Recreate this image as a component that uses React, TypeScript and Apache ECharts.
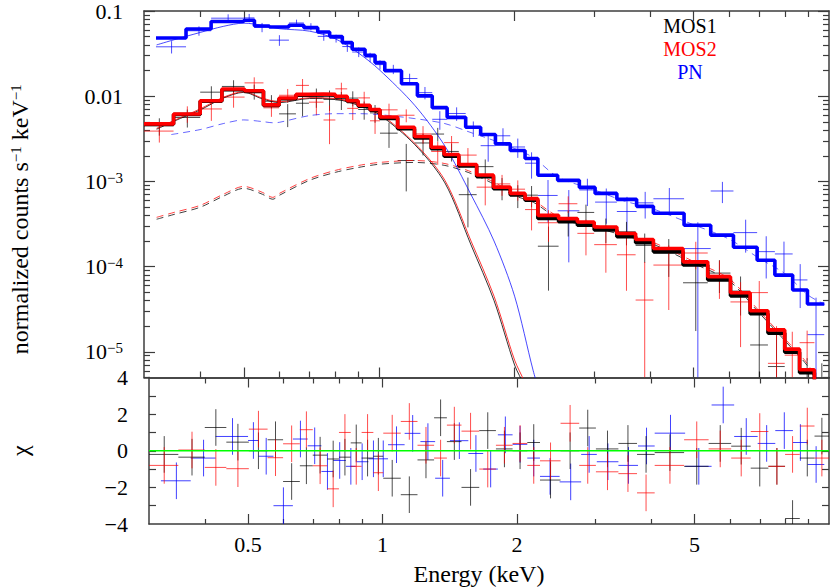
import React, { useEffect, useRef } from 'react';
import * as echarts from 'echarts';

// ---------- data (energies in keV) ----------
// EPIC-pn bins: edges, folded model (counts s^-1 keV^-1), residual chi, relative error
const pnEdges = [0.319, 0.372, 0.423, 0.5, 0.528, 0.57, 0.63, 0.68, 0.73, 0.776, 0.828, 0.871, 0.93, 0.979, 1.029, 1.121, 1.216, 1.312, 1.416, 1.557, 1.681, 1.813, 1.956, 2.11, 2.253, 2.493, 2.786, 3.02, 3.376, 3.735, 4.07, 4.762, 5.458, 6.132, 6.922, 7.58, 8.303, 8.955, 9.76];
const pnModel = [0.0483, 0.0616, 0.0753, 0.0778, 0.0668, 0.065, 0.068, 0.0638, 0.0568, 0.0503, 0.0426, 0.0356, 0.0303, 0.0248, 0.0199, 0.014, 0.0101, 0.00734, 0.00565, 0.00432, 0.00355, 0.00276, 0.00231, 0.00186, 0.00118, 0.00103, 0.000851, 0.000724, 0.000616, 0.00051, 0.000423, 0.000306, 0.000234, 0.000169, 0.000119, 0.0000796, 0.0000531, 0.0000364];
const pnChi = [-1.64, -0.4, 0.78, 0.56, -0.3, -3.0, 0.64, 0.27, -1.13, -0.53, -0.85, -0.6, -0.44, -0.44, 0.33, 0.95, 0.5, -1.5, 0.55, -0.15, -1.0, 0.87, 0.35, -0.4, -1.4, -1.7, -0.2, -0.6, -0.8, 0.26, 0.96, -0.85, 2.5, 0.78, 0.4, 1.1, 0.45, -0.75];
const pnRelErr = [0.13, 0.12, 0.12, 0.12, 0.12, 0.1, 0.1, 0.1, 0.1, 0.1, 0.12, 0.12, 0.12, 0.12, 0.13, 0.16, 0.18, 0.18, 0.2, 0.2, 0.26, 0.28, 0.28, 0.3, 0.3, 0.33, 0.33, 0.35, 0.35, 0.38, 0.5, 0.55, 0.92, 0.62, 0.65, 0.7, 0.7, 0.75];

// EPIC-MOS bins (shared by MOS1 and MOS2)
const mosEdges = [0.3, 0.349, 0.4, 0.447, 0.502, 0.553, 0.599, 0.653, 0.698, 0.752, 0.799, 0.849, 0.898, 0.954, 1.004, 1.099, 1.198, 1.305, 1.394, 1.503, 1.647, 1.795, 1.956, 2.11, 2.253, 2.505, 2.758, 3.006, 3.376, 3.716, 4.07, 4.737, 5.375, 6.039, 6.679, 7.316, 7.972, 8.602, 9.28, 10.0];
const mos1Model = [0.00468, 0.0061, 0.00872, 0.0119, 0.0114, 0.0078, 0.00935, 0.0103, 0.0104, 0.0103, 0.0098, 0.00868, 0.00766, 0.00683, 0.0055, 0.00415, 0.00323, 0.00242, 0.00198, 0.00152, 0.00114, 0.000823, 0.000695, 0.000603, 0.000368, 0.000337, 0.000307, 0.000269, 0.000225, 0.000191, 0.00015, 0.0001047, 0.00007, 0.0000454, 0.000028, 0.0000166, 0.0000099, 0.0000057, 0.0000028];
const mos2Model = [0.00473, 0.00619, 0.00886, 0.01214, 0.0116, 0.00791, 0.00953, 0.0105, 0.0106, 0.0105, 0.01, 0.00886, 0.00783, 0.00699, 0.00571, 0.00432, 0.00336, 0.00252, 0.00207, 0.00158, 0.00119, 0.000858, 0.000724, 0.000628, 0.0004, 0.000366, 0.000334, 0.000292, 0.000245, 0.000208, 0.000163, 0.0001138, 0.000076, 0.0000494, 0.0000304, 0.0000181, 0.00001076, 0.00000616, 0.000003];
const mos1Chi = [-0.2, -0.35, 1.27, 0.47, 0.0, 0.6, -1.68, -0.82, -0.24, -0.45, -0.35, 0.43, -0.4, -0.3, -1.5, -2.4, -0.5, 1.8, 0.5, -2.0, 1.1, 0.1, 0.0, 0.45, -1.6, 0.0, 1.24, 0.1, 0.4, -0.2, -0.1, -0.85, 0.4, 0.25, -0.95, -0.85, -3.7, -0.4, 0.8];
const mos2Chi = [-0.8, 0.04, -0.91, -0.98, 1.18, -0.38, 0.38, 1.15, -0.82, -2.08, 1.0, -0.85, 1.0, -1.2, 0.96, 1.6, 0.3, -0.4, 1.4, 1.07, -1.0, 0.3, 0.4, -0.8, -0.55, 1.5, -0.8, -1.15, -1.25, -2.3, -0.8, 0.6, 0.1, -0.4, 1.05, -0.85, -0.2, 1.35, -0.4];
const mosRelErr = [0.22, 0.22, 0.22, 0.2, 0.2, 0.2, 0.2, 0.24, 0.24, 0.24, 0.22, 0.22, 0.22, 0.22, 0.22, 0.24, 0.25, 0.27, 0.27, 0.27, 0.28, 0.3, 0.3, 0.32, 0.33, 0.33, 0.33, 0.33, 0.35, 0.35, 0.45, 0.45, 0.5, 0.55, 0.6, 0.7, 0.75, 0.8, 0.9];

// model components
const pnThermE = [0.32, 0.35, 0.4, 0.45, 0.5, 0.55, 0.6, 0.7, 0.8, 0.9, 1.0, 1.2, 1.4, 1.6, 1.8, 2.0, 2.2, 2.3];
const pnThermV = [0.04, 0.046, 0.056, 0.066, 0.072, 0.068, 0.062, 0.058, 0.047, 0.032, 0.0205, 0.0078, 0.0026, 0.0007, 0.0002, 0.000045, 0.000006, 0.0000027];
const mosThermE = [0.32, 0.35, 0.4, 0.45, 0.5, 0.55, 0.6, 0.7, 0.8, 0.9, 1.0, 1.2, 1.4, 1.6, 1.8, 2.0, 2.1, 2.2];
const mos1ThermV = [0.0041, 0.0051, 0.0069, 0.0095, 0.0111, 0.0093, 0.0084, 0.0094, 0.0092, 0.0078, 0.0061, 0.0027, 0.00096, 0.00018, 0.00004, 0.000007, 0.000004, 0.0000018];
const mos2ThermV = [0.0042, 0.0052, 0.0071, 0.0097, 0.0113, 0.0095, 0.0086, 0.0096, 0.0094, 0.008, 0.0063, 0.0028, 0.00103, 0.0002, 0.000045, 0.000008, 0.0000045, 0.000002];
const pnPowE = [0.345, 0.4, 0.45, 0.5, 0.55, 0.58, 0.6, 0.7, 0.8, 0.9, 1.0, 1.2, 1.4, 1.6, 1.8, 2.0, 2.2, 2.5, 3.0, 3.5, 4.0, 5.0, 6.0, 7.0, 8.0, 9.0, 9.8];
const pnPowV = [0.00355, 0.00406, 0.00477, 0.00527, 0.00504, 0.00488, 0.00494, 0.00592, 0.00624, 0.00624, 0.00608, 0.00546, 0.00477, 0.00374, 0.00302, 0.00243, 0.00191, 0.00112, 0.0008, 0.00059, 0.00049, 0.00031, 0.00021, 0.000125, 0.000082, 0.000046, 0.000036];
const mosPowE = [0.32, 0.35, 0.4, 0.45, 0.5, 0.55, 0.58, 0.6, 0.7, 0.8, 0.9, 1.0, 1.2, 1.4, 1.6, 1.8, 2.0, 2.2, 2.5, 3.0, 3.5, 4.0, 5.0, 6.0, 7.0, 8.0, 9.0, 9.6];
const mos1PowV = [0.00036, 0.00041, 0.000498, 0.00067, 0.00083, 0.000707, 0.000618, 0.000688, 0.00103, 0.00128, 0.00146, 0.00159, 0.00167, 0.00154, 0.00124, 0.00093, 0.00068, 0.00057, 0.00037, 0.00029, 0.000232, 0.00019, 0.000109, 0.000068, 0.0000285, 0.0000133, 0.0000066, 0.0000033];
const mos2PowV = [0.000379, 0.000433, 0.000524, 0.000705, 0.000874, 0.000744, 0.00065, 0.000724, 0.00108, 0.00135, 0.00154, 0.00167, 0.00176, 0.00162, 0.0013, 0.00098, 0.00072, 0.0006, 0.00039, 0.00031, 0.000245, 0.0002, 0.000115, 0.000072, 0.00003, 0.000014, 0.000007, 0.0000035];

// axes
const xMajorTicks = [0.5, 1, 2, 5];
const xMinorTicks = [0.4, 0.6, 0.7, 0.8, 0.9, 3, 4, 6, 7, 8, 9];
const yMajorTicks = [1e-5, 1e-4, 1e-3, 0.01, 0.1];
const yMinorMultipliers = [2, 3, 4, 5, 6, 7, 8, 9];
const yDecades = [1e-6, 1e-5, 1e-4, 1e-3, 0.01];
const chiTicks = [-3, -2, -1, 0, 1, 2, 3];
const chiLabels = [-4, -2, 0, 2, 4];
const legendNames = ['MOS1', 'MOS2', 'PN'];
const legendColors = ['#000000', '#ff0000', '#0000ff'];

const X_MIN = 0.3, X_MAX = 10, Y_MIN = 5e-6, Y_MAX = 0.1, CHI_MIN = -4, CHI_MAX = 4;
const FONT = 'Liberation Serif';
const AX = '#3c3c3c';
const BLUE = '#0000ff', RED = '#ff0000', BLACK = '#000000';

const yMinorTicks: number[] = [];
yDecades.forEach((d) => yMinorMultipliers.forEach((m) => {
  const v = +(d * m).toPrecision(6);
  if (v >= Y_MIN && v <= Y_MAX) yMinorTicks.push(v);
}));

function stepPoints(edges: number[], vals: number[]) {
  const pts: number[][] = [];
  vals.forEach((v, i) => { pts.push([edges[i], v]); pts.push([edges[i + 1], v]); });
  return pts;
}
function zipXY(xs: number[], ys: number[]) { return xs.map((x, i) => [x, ys[i]]); }
const FLOOR = 1e-9;
function spectrumCrosses(edges: number[], model: number[], chi: number[], rel: number[]) {
  return model.map((m, i) => {
    const lo = edges[i], hi = edges[i + 1];
    const err = rel[i] * m;
    const d = m + chi[i] * err;
    return [(lo + hi) / 2, Math.max(d, FLOOR), lo, hi, Math.max(d - err, FLOOR), Math.max(d + err, FLOOR)];
  });
}
function residualCrosses(edges: number[], chi: number[]) {
  return chi.map((c, i) => [(edges[i] + edges[i + 1]) / 2, c, edges[i], edges[i + 1], c - 1, c + 1]);
}

function crossSeries(name: string, data: number[][], color: string, xi: number, yi: number, opacity: number) {
  return {
    type: 'custom', name, data, xAxisIndex: xi, yAxisIndex: yi, clip: true, silent: true, z: 2,
    encode: { x: 0, y: 1 },
    renderItem: (params: any, api: any) => {
      const cs = params.coordSys;
      const top = cs.y, bot = cs.y + cs.height, left = cs.x, right = cs.x + cs.width;
      const xc = api.value(0), y = api.value(1), xlo = api.value(2), xhi = api.value(3), ylo = api.value(4), yhi = api.value(5);
      const a = api.coord([xlo, y]), b = api.coord([xhi, y]);
      const c = api.coord([xc, ylo]), d = api.coord([xc, yhi]);
      const style = { stroke: color, lineWidth: 1, opacity, fill: null };
      const children: any[] = [];
      if (a[1] >= top - 0.5 && a[1] <= bot + 0.5) {
        children.push({ type: 'line', shape: { x1: Math.max(a[0], left), y1: a[1], x2: Math.min(b[0], right), y2: b[1] }, style });
      }
      const y1 = Math.min(Math.max(c[1], top), bot), y2 = Math.min(Math.max(d[1], top), bot);
      if (Math.abs(y1 - y2) > 0.1 && c[0] >= left && c[0] <= right) {
        children.push({ type: 'line', shape: { x1: c[0], y1, x2: d[0], y2 }, style });
      }
      return { type: 'group', children };
    },
  };
}

function lineSeries(name: string, data: number[][], color: string, width: number, dashed: boolean, z: number, opacity = 1, smooth: any = false) {
  return {
    type: 'line', name, data, xAxisIndex: 0, yAxisIndex: 0, symbol: 'none', showSymbol: false, clip: true, silent: true, z, smooth,
    lineStyle: { color, width, type: dashed ? [7, 5] : 'solid', opacity },
  };
}

function mkX(grid: number, pos: string, ticks: number[], len: number, line: boolean, extra: any = {}) {
  return {
    type: 'log', logBase: 10, gridIndex: grid, position: pos, min: X_MIN, max: X_MAX,
    axisLine: { show: line, onZero: false, lineStyle: { color: AX, width: 1.5 } },
    axisTick: { show: true, inside: true, length: len, customValues: ticks, lineStyle: { color: AX, width: 1.2 } },
    axisLabel: { show: false }, splitLine: { show: false }, minorTick: { show: false },
    ...extra,
  };
}
function mkYLog(pos: string, ticks: number[], len: number, line: boolean, extra: any = {}) {
  return {
    type: 'log', logBase: 10, gridIndex: 0, position: pos, min: Y_MIN, max: Y_MAX,
    axisLine: { show: line, onZero: false, lineStyle: { color: AX, width: 1.5 } },
    axisTick: { show: true, inside: true, length: len, customValues: ticks, lineStyle: { color: AX, width: 1.2 } },
    axisLabel: { show: false }, splitLine: { show: false }, minorTick: { show: false },
    ...extra,
  };
}
function mkChi(pos: string, line: boolean, extra: any = {}) {
  return {
    type: 'value', gridIndex: 1, position: pos, min: CHI_MIN, max: CHI_MAX,
    axisLine: { show: line, onZero: false, lineStyle: { color: AX, width: 1.5 } },
    axisTick: { show: true, inside: true, length: 7, customValues: chiTicks, lineStyle: { color: AX, width: 1.2 } },
    axisLabel: { show: false }, splitLine: { show: false }, minorTick: { show: false },
    ...extra,
  };
}

const supRich = { sup: { fontFamily: FONT, fontSize: 15, color: '#000', verticalAlign: 'top' } };
const fmtLog = (v: number) => {
  if (v > 0.05) return '0.1';
  if (v > 0.005) return '0.01';
  return `10{sup|\u2212${Math.round(-Math.log10(v))}}`;
};
const fmtChi = (v: number) => (v < 0 ? '\u2212' + Math.abs(v) : String(v));

export default function App() {
  const ref = useRef<HTMLDivElement>(null);
  useEffect(() => {
    if (!ref.current) return;
    const chart = echarts.init(ref.current, undefined, { renderer: 'svg' });
    const option: any = {
      animation: false,
      backgroundColor: '#ffffff',
      grid: [
        { left: 136, top: 9.5, width: 693, height: 368 },
        { left: 136, top: 377.5, width: 693, height: 146.5 },
      ],
      xAxis: [
        mkX(0, 'bottom', xMajorTicks, 10, true),
        mkX(0, 'bottom', xMinorTicks, 6, false),
        mkX(0, 'top', xMajorTicks, 10, true),
        mkX(0, 'top', xMinorTicks, 6, false),
        mkX(1, 'bottom', xMajorTicks, 10, true, {
          axisLabel: { show: true, customValues: xMajorTicks, formatter: (v: number) => String(v), margin: 9, fontFamily: FONT, fontSize: 22, color: '#000' },
          name: 'Energy (keV)', nameLocation: 'middle', nameGap: 38,
          nameTextStyle: { fontFamily: FONT, fontSize: 24, color: '#000', padding: [0, 20, 0, 0] },
        }),
        mkX(1, 'bottom', xMinorTicks, 5, false),
        mkX(1, 'top', xMajorTicks, 10, true),
        mkX(1, 'top', xMinorTicks, 6, false),
      ],
      yAxis: [
        mkYLog('left', yMajorTicks, 11, true, {
          axisLabel: { show: true, customValues: yMajorTicks, formatter: fmtLog, margin: 21, fontFamily: FONT, fontSize: 22, color: '#000', rich: supRich },
          name: 'normalized counts s{sup|\u22121} keV{sup|\u22121}', nameLocation: 'middle', nameRotate: 90, nameGap: 112,
          nameTextStyle: { fontFamily: FONT, fontSize: 24, color: '#000', rich: supRich, padding: [0, 50, 0, 0] },
        }),
        mkYLog('left', yMinorTicks, 6, false),
        mkYLog('right', yMajorTicks, 11, true),
        mkYLog('right', yMinorTicks, 6, false),
        mkChi('left', true, {
          axisLabel: { show: true, customValues: chiLabels, formatter: fmtChi, margin: 21, fontFamily: FONT, fontSize: 22, color: '#000' },
          name: '\u03c7', nameLocation: 'middle', nameRotate: 90, nameGap: 117,
          nameTextStyle: { fontFamily: FONT, fontSize: 24, color: '#000' },
        }),
        mkChi('right', true),
      ],
      graphic: legendNames.map((n, i) => ({
        type: 'text', x: 690, y: [26, 49, 72][i], silent: true,
        style: { text: n, fill: legendColors[i], fontFamily: FONT, fontSize: 20, align: 'center', verticalAlign: 'middle' },
      })),
      series: [
        // data
        crossSeries('PN data', spectrumCrosses(pnEdges, pnModel, pnChi, pnRelErr), BLUE, 0, 0, 0.7),
        crossSeries('MOS1 data', spectrumCrosses(mosEdges, mos1Model, mos1Chi, mosRelErr), BLACK, 0, 0, 0.7),
        crossSeries('MOS2 data', spectrumCrosses(mosEdges, mos2Model, mos2Chi, mosRelErr), RED, 0, 0, 0.7),
        // model components
        lineSeries('MOS1 power law', zipXY(mosPowE, mos1PowV), BLACK, 1, true, 3, 0.75, 0.3),
        lineSeries('MOS2 power law', zipXY(mosPowE, mos2PowV), RED, 1, true, 3, 0.75, 0.3),
        lineSeries('PN power law', zipXY(pnPowE, pnPowV), BLUE, 1, true, 3, 0.6, 0.3),
        lineSeries('MOS1 thermal', zipXY(mosThermE, mos1ThermV), BLACK, 1, false, 3, 0.8, 0.3),
        lineSeries('MOS2 thermal', zipXY(mosThermE, mos2ThermV), RED, 1, false, 3, 0.8, 0.3),
        lineSeries('PN thermal', zipXY(pnThermE, pnThermV), BLUE, 0.9, false, 3, 0.8, 0.3),
        // folded models
        lineSeries('MOS1', stepPoints(mosEdges, mos1Model), BLACK, 3.6, false, 5),
        lineSeries('MOS2', stepPoints(mosEdges, mos2Model), RED, 3.6, false, 6),
        lineSeries('PN', stepPoints(pnEdges, pnModel), BLUE, 3.6, false, 7),
        // residuals
        crossSeries('PN residuals', residualCrosses(pnEdges, pnChi), BLUE, 4, 4, 0.75),
        crossSeries('MOS1 residuals', residualCrosses(mosEdges, mos1Chi), BLACK, 4, 4, 0.7),
        crossSeries('MOS2 residuals', residualCrosses(mosEdges, mos2Chi), RED, 4, 4, 0.7),
        {
          type: 'line', name: 'zero', xAxisIndex: 4, yAxisIndex: 4, symbol: 'none', silent: true, z: 8,
          data: [[X_MIN, 0], [X_MAX, 0]], lineStyle: { color: '#00ff00', width: 1.3 },
        },
      ],
    };
    chart.setOption(option);
    return () => chart.dispose();
  }, []);
  return (
    <div style={{ position: 'absolute', left: 0, top: 0, width: 830, height: 587, background: '#fff' }}>
      <div ref={ref} style={{ width: 830, height: 587 }} />
    </div>
  );
}
